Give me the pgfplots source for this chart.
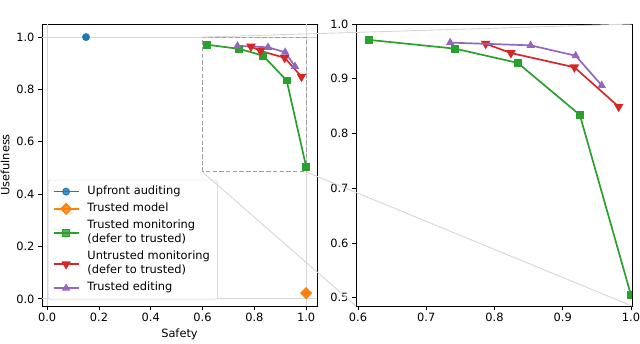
\documentclass[border=0pt]{standalone}
\usepackage{fontspec}
\setmainfont{DejaVu Sans}
\usepackage{pgfplots}
\pgfplotsset{compat=1.18}

\definecolor{cblue}{HTML}{1F77B4}
\definecolor{corange}{HTML}{FF7F0E}
\definecolor{cgreen}{HTML}{2CA02C}
\definecolor{cred}{HTML}{D62728}
\definecolor{cpurple}{HTML}{9467BD}
\definecolor{refgray}{HTML}{D6D6D6}
\definecolor{boxgray}{HTML}{A0A0A0}
\definecolor{leggray}{HTML}{CCCCCC}

\pgfplotsset{
  every axis/.append style={
    scale only axis,
    font=\fontsize{11.4}{13.7}\selectfont,
    axis line style={line width=0.9pt},
    tick align=outside,
    major tick length=4pt,
    tick style={black, line width=0.9pt},
    xtick pos=bottom, ytick pos=left,
    xticklabel style={/pgf/number format/.cd, fixed, fixed zerofill, precision=1, assume math mode=true},
    yticklabel style={/pgf/number format/.cd, fixed, fixed zerofill, precision=1, assume math mode=true},
  },
  curve/.style={line width=1.7pt, mark options={solid, line width=1pt}},
}

\begin{document}
\begin{tikzpicture}
\useasboundingbox (0,0) rectangle (640pt,343pt);

% ---------- left panel: full range ----------
\begin{axis}[
  name=L, at={(42pt,37pt)}, anchor=south west,
  width=275pt, height=282pt,
  xmin=-0.02, xmax=1.042, ymin=-0.027, ymax=1.05,
  xtick={0,0.2,0.4,0.6,0.8,1}, ytick={0,0.2,0.4,0.6,0.8,1},
  xlabel={Safety}, ylabel={Usefulness},
  legend cell align=left,
  legend image code/.code={\draw[mark repeat=2,mark phase=2,#1] plot coordinates {(0pt,0pt) (12.5pt,0pt) (25pt,0pt)};},
  legend style={at={(0.022,0.021)}, anchor=south west, draw=leggray,
    rounded corners=2.5pt, fill=white, fill opacity=0.8, text opacity=1,
    font=\fontsize{11.4}{13.7}\selectfont, cells={align=left},
    inner xsep=4.5pt, inner ysep=3pt,
    nodes={inner xsep=3pt, inner ysep=1.8pt, text depth=},
    /tikz/every odd column/.append style={column sep=5pt}},
]
% reference lines at 0 and 1
\draw[refgray, line width=0.9pt] (axis cs:0,-0.027) -- (axis cs:0,1.05);
\draw[refgray, line width=0.9pt] (axis cs:1,-0.027) -- (axis cs:1,1.05);
\draw[refgray, line width=0.9pt] (axis cs:-0.02,0) -- (axis cs:1.042,0);
\draw[refgray, line width=0.9pt] (axis cs:-0.02,1) -- (axis cs:1.042,1);
% zoom box
\draw[boxgray, line width=1.1pt, dash pattern=on 4.5pt off 2.2pt] (axis cs:0.6,0.485) rectangle (axis cs:1.0,1.0);
\coordinate (rtl) at (axis cs:0.6,1.0);
\coordinate (rbl) at (axis cs:0.6,0.485);
\coordinate (rbr) at (axis cs:1.0,0.485);

\addplot[curve, cblue, mark=*, mark size=3.4pt] coordinates {(0.15,1.0)};
\addlegendentry{\strut Upfront auditing}
\addplot[curve, corange, mark=square*, mark size=3.5pt, mark options={rotate=45}] coordinates {(1.0,0.022)};
\addlegendentry{\strut Trusted model}
\addplot[curve, cgreen, mark=square*, mark size=3.4pt] coordinates {
  (0.616,0.971) (0.742,0.955) (0.834,0.929) (0.925,0.834) (1.0,0.505)};
\addlegendentry{\strut Trusted monitoring\\\strut(defer to trusted)}
\addplot[curve, cred, mark=triangle*, mark size=3.9pt, mark options={rotate=180}] coordinates {
  (0.787,0.964) (0.824,0.947) (0.917,0.921) (0.982,0.849)};
\addlegendentry{\strut Untrusted monitoring\\\strut(defer to trusted)}
\addplot[curve, cpurple, mark=triangle*, mark size=3.9pt] coordinates {
  (0.735,0.966) (0.853,0.961) (0.919,0.942) (0.957,0.888)};
\addlegendentry{\strut Trusted editing}
\end{axis}

% ---------- right panel: zoomed ----------
\begin{axis}[
  name=R, at={(356pt,37pt)}, anchor=south west,
  width=276pt, height=282pt,
  xmin=0.597, xmax=1.0015, ymin=0.485, ymax=1.0,
  xtick={0.6,0.7,0.8,0.9,1}, ytick={0.5,0.6,0.7,0.8,0.9,1},
  clip marker paths=true,
]
\addplot[curve, cgreen, mark=square*, mark size=3.4pt] coordinates {
  (0.616,0.971) (0.742,0.955) (0.834,0.929) (0.925,0.834) (1.0,0.505)};
\addplot[curve, cred, mark=triangle*, mark size=3.9pt, mark options={rotate=180}] coordinates {
  (0.787,0.964) (0.824,0.947) (0.917,0.921) (0.982,0.849)};
\addplot[curve, cpurple, mark=triangle*, mark size=3.9pt] coordinates {
  (0.735,0.966) (0.853,0.961) (0.919,0.942) (0.957,0.888)};
\end{axis}

% connector lines between zoom box and right panel
\draw[refgray, line width=0.9pt] (rtl) -- (R.north east);
\draw[refgray, line width=0.9pt] (rbl) -- (R.south west);
\draw[refgray, line width=0.9pt] (rbr) -- (R.south east);
\end{tikzpicture}
\end{document}
